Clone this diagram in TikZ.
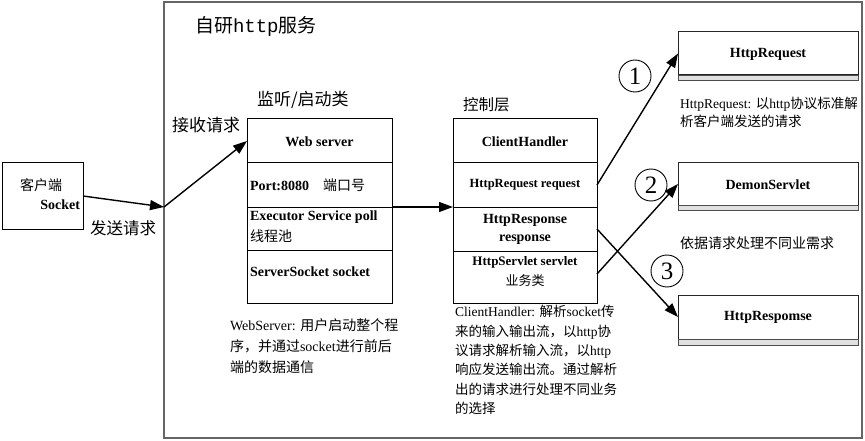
\documentclass[tikz,border=0pt]{standalone}
\usepackage{fontspec}
\setmainfont{Liberation Serif}
\setmonofont{Liberation Mono}
\newfontfamily\cjk{Noto Sans CJK SC}
\usetikzlibrary{arrows.meta}
\begin{document}
\begin{tikzpicture}[x=1pt,y=-1pt,
  frame/.style={draw=black!60,line width=1.2pt,minimum width=698pt,minimum height=436pt,inner sep=0pt,outer sep=0pt},
  cell/.style={draw=black,line width=1pt,inner sep=0pt,outer sep=0pt},
  lcell/.style={cell,minimum width=145pt},
  ccell/.style={cell,minimum width=144pt},
  rbox/.style={draw=black!85,line width=1pt,minimum width=180pt,inner sep=0pt,outer sep=0pt,fill=white},
  strip/.style={draw=black!70,line width=0.8pt,fill=black!12},
  txt/.style={inner sep=0pt,outer sep=0pt},
  lbl/.style={txt,font=\bfseries\fontsize{14}{17}\selectfont,align=center},
  desc/.style={txt,align=left,anchor=west},
  num/.style={draw=black,line width=0.9pt,circle,minimum size=32pt,inner sep=0pt,font=\fontsize{25}{25}\selectfont},
  arr/.style={draw=black,line width=1.4pt,-{Triangle[length=14pt,width=10pt]}}]
\useasboundingbox (0,0) rectangle (865,441);

% outer frame
\node[frame] (fr) at (513,220) {};
\node[txt,anchor=west] (title) at (195,26) {\fontsize{19}{19}\selectfont\cjk 自研\texttt{http}服务};

% client
\node[cell,minimum width=81pt,minimum height=66pt] (cl) at (42.5,196) {};
\node[txt] (clt1) at (41,185) {\fontsize{14}{14}\selectfont\cjk 客户端};
\node[txt,anchor=east] (clt2) at (80,205) {\bfseries\fontsize{14}{14}\selectfont Socket};
\node[txt,anchor=west] (send) at (90,228) {\fontsize{16.5}{16.5}\selectfont\cjk 发送请求};
\node[txt,anchor=west] (recv) at (172,125) {\fontsize{17}{17}\selectfont\cjk 接收请求};
\coordinate (f1) at (164,207);

% listener stack
\node[txt,anchor=west] (lt) at (257,100) {\fontsize{17}{17}\selectfont\cjk 监听/启动类};
\node[lcell,minimum height=44pt] (ws1) at (319.5,141) {};
\node[lcell,minimum height=44pt] (ws2) at (319.5,185) {};
\node[lcell,minimum height=43pt] (ws3) at (319.5,228.5) {};
\node[lcell,minimum height=53pt] (ws4) at (319.5,276.5) {};
\node[lbl] (ws1t) at (319.5,142) {Web server};
\node[txt,anchor=west] (ws2t) at (250,185) {\bfseries\fontsize{14}{14}\selectfont Port:8080\hspace{1em}{\mdseries\cjk 端口号}};
\node[desc,font=\fontsize{14}{21}\selectfont] (ws3t) at (250,227) {\bfseries Executor Service poll\\{\cjk 线程池}};
\node[txt,anchor=west] (ws4t) at (250,272) {\bfseries\fontsize{14}{14}\selectfont ServerSocket socket};
\node[desc,font=\fontsize{14}{21}\selectfont] (wsd) at (230,346) {WebServer: {\cjk 用户启动整个程}\\{\cjk 序，并通过}socket{\cjk 进行前后}\\{\cjk 端的数据通信}};

% control stack
\node[txt,anchor=west] (ct) at (463,105) {\fontsize{15.5}{15.5}\selectfont\cjk 控制层};
\node[ccell,minimum height=44pt] (ch1) at (525,141) {};
\node[ccell,minimum height=44pt] (ch2) at (525,185) {};
\node[ccell,minimum height=44pt] (ch3) at (525,229) {};
\node[ccell,minimum height=52pt] (ch4) at (525,277) {};
\node[lbl] (ch1t) at (525,142) {ClientHandler};
\node[lbl,font=\bfseries\fontsize{12.5}{14}\selectfont] (ch2t) at (525,185) {HttpRequest request};
\node[lbl,font=\bfseries\fontsize{14}{18}\selectfont] (ch3t) at (525,229) {HttpResponse\\response};
\node[lbl,font=\bfseries\fontsize{13}{20}\selectfont] (ch4t) at (525,272) {HttpServlet servlet\\{\mdseries\cjk 业务类}};
\node[desc,font=\fontsize{13.5}{19.3}\selectfont] (chd) at (455,360) {ClientHandler: {\cjk 解析}socket{\cjk 传}\\{\cjk 来的输入输出流，以}http{\cjk 协}\\{\cjk 议请求解析输入流，以}http\\{\cjk 响应发送输出流。通过解析}\\{\cjk 出的请求进行处理不同业务}\\{\cjk 的选择}};

% right boxes
\node[rbox,minimum height=43pt] (rq) at (768,53.5) {};
\draw[strip] (rq.south west) rectangle ++(180,5);
\node[lbl] (rqt) at (768,54) {HttpRequest};
\node[desc,font=\fontsize{13.5}{18}\selectfont] (rqd) at (680,112) {HttpRequest: {\cjk 以}http{\cjk 协议标准解}\\{\cjk 析客户端发送的请求}};

\node[rbox,minimum height=42pt] (ds) at (768,184) {};
\draw[strip] (ds.south west) rectangle ++(180,5);
\node[lbl] (dst) at (768,185) {DemonServlet};
\node[desc,font=\fontsize{14}{14}\selectfont] (dsd) at (680,243) {\cjk 依据请求处理不同业需求};

\node[rbox,minimum height=44pt] (rs) at (768,317) {};
\draw[strip] (rs.south west) rectangle ++(180,6);
\node[lbl] (rst) at (768,317) {HttpRespomse};

% numbers
\node[num] (n1) at (635,76) {1};
\node[num] (n2) at (651,185) {2};
\node[num] (n3) at (667,271) {3};

% connectors
\draw[arr] (cl.east) -- (f1);
\draw[arr] (f1) -- (ws1.west);
\draw[arr] (ws3.north east) -- (ch3.north west);
\draw[arr] (ch2.east) -- (rq.west);
\draw[arr] ([yshift=3pt]ch4.east) -- (ds.west);
\draw[arr] (ch3.east) -- (rs.west);
\end{tikzpicture}
\end{document}
